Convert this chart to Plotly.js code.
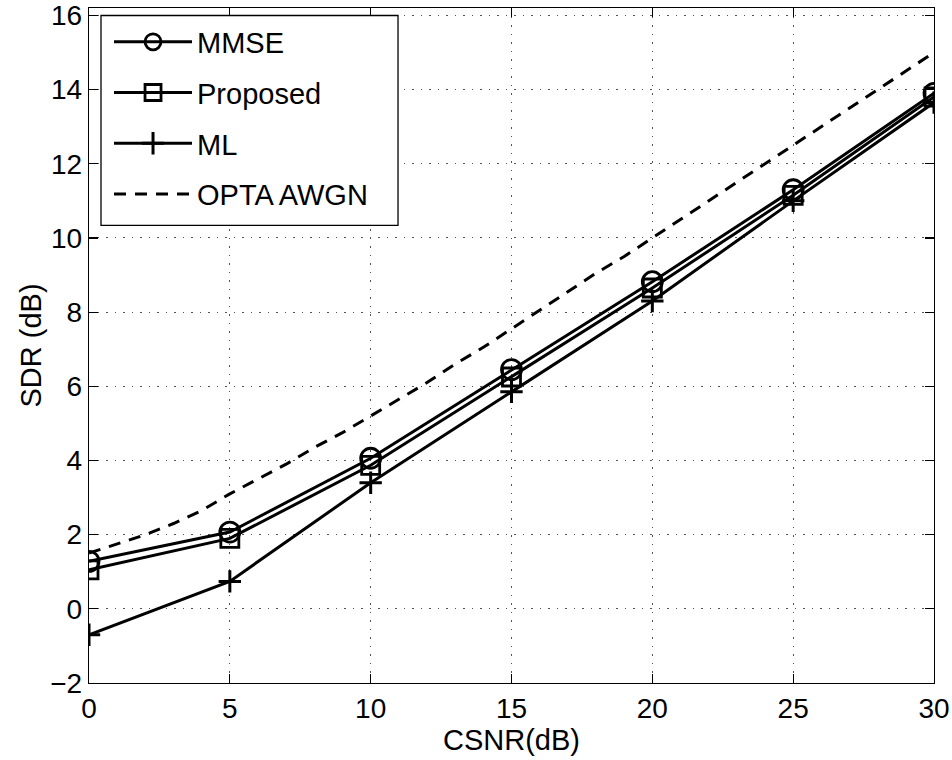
<!DOCTYPE html>
<html>
<head>
<meta charset="utf-8">
<script src="https://cdn.plot.ly/plotly-3.0.1.min.js"></script>
<style>html,body{margin:0;padding:0;background:#fff;}#chart{width:952px;height:760px;}</style>
</head>
<body>
<div id="chart"></div>
<script>
const csnr = [0, 5, 10, 15, 20, 25, 30];
const mmse = [1.28, 2.07, 4.06, 6.45, 8.82, 11.3, 13.9];
const proposed = [1.05, 1.9, 3.87, 6.25, 8.65, 11.15, 13.8];
const ml = [-0.7, 0.74, 3.4, 5.85, 8.3, 11.0, 13.65];
const optaX = [0,1,2,3,4,5,6,7,8,9,10,11,12,13,14,15,16,17,18,19,20,21,22,23,24,25,26,27,28,29,30];
const optaY = [1.5,1.75,2.0,2.3,2.65,3.1,3.5,3.9,4.35,4.75,5.2,5.65,6.1,6.6,7.05,7.55,8.05,8.55,9.05,9.5,10.0,10.5,11.0,11.5,12.0,12.5,13.0,13.5,14.0,14.5,15.0];
const names = ["MMSE", "Proposed", "ML", "OPTA AWGN"];
const xTicks = [0, 5, 10, 15, 20, 25, 30];
const yTicks = [-2, 0, 2, 4, 6, 8, 10, 12, 14, 16];

const FONT = "Liberation Sans, Arial, sans-serif";
const lw = 3;
const traces = [
  {x: csnr, y: mmse, name: names[0], legendgroup: "a", mode: "lines+markers",
   line: {color: "#000", width: lw},
   marker: {symbol: "circle-open", size: 20, color: "#000", line: {width: 2.8, color: "#000"}}},
  {x: csnr, y: proposed, name: names[1], legendgroup: "b", mode: "lines+markers",
   line: {color: "#000", width: lw},
   marker: {symbol: "square-open", size: 18, color: "#000", line: {width: 2.8, color: "#000"}}},
  {x: csnr, y: ml, name: names[2], legendgroup: "c", mode: "lines+markers",
   line: {color: "#000", width: lw},
   marker: {symbol: "cross-thin-open", size: 16, color: "#000", line: {width: 3, color: "#000"}}},
  {x: optaX, y: optaY, name: names[3], legendgroup: "d", mode: "lines",
   line: {color: "#000", width: lw, dash: "12px,9px"}}
];

const axisCommon = {
  showline: true, mirror: "ticks", linecolor: "#000", linewidth: 1.3,
  ticks: "inside", ticklen: 9, tickwidth: 1.2, tickcolor: "#000",
  showgrid: true, gridcolor: "#555", gridwidth: 1, griddash: "1.5px,7px",
  zeroline: false,
  tickfont: {family: FONT, size: 28, color: "#000"}
};

const layout = {
  width: 952, height: 760,
  paper_bgcolor: "#fff", plot_bgcolor: "#fff",
  margin: {l: 89, r: 18, t: 8, b: 77},
  showlegend: true,
  xaxis: Object.assign({}, axisCommon, {
    range: [0, 30], tickvals: xTicks, ticktext: xTicks.map(String),
    title: {text: "CSNR(dB)", font: {family: FONT, size: 29, color: "#000"}, standoff: 0}
  }),
  yaxis: Object.assign({}, axisCommon, {
    range: [-2, 16.2], tickvals: yTicks, ticktext: yTicks.map(v => v < 0 ? "\u2212" + Math.abs(v) : String(v)),
    title: {text: "SDR (dB)", font: {family: FONT, size: 29, color: "#000"}, standoff: 0}
  }),
  shapes: [
    {type: "rect", xref: "paper", yref: "paper", x0: 0.0142, x1: 0.3657, y0: 0.678, y1: 0.9889,
     fillcolor: "#fff", line: {color: "#000", width: 1.3}, layer: "above"}
  ],
  legend: {
    x: 0.0237, y: 0.9875, xanchor: "left", yanchor: "top",
    bgcolor: "rgba(0,0,0,0)", borderwidth: 0,
    font: {family: FONT, size: 29, color: "#000"},
    itemwidth: 78, tracegroupgap: 10
  }
};

Plotly.newPlot("chart", traces, layout, {staticPlot: true, displayModeBar: false});
</script>
</body>
</html>
